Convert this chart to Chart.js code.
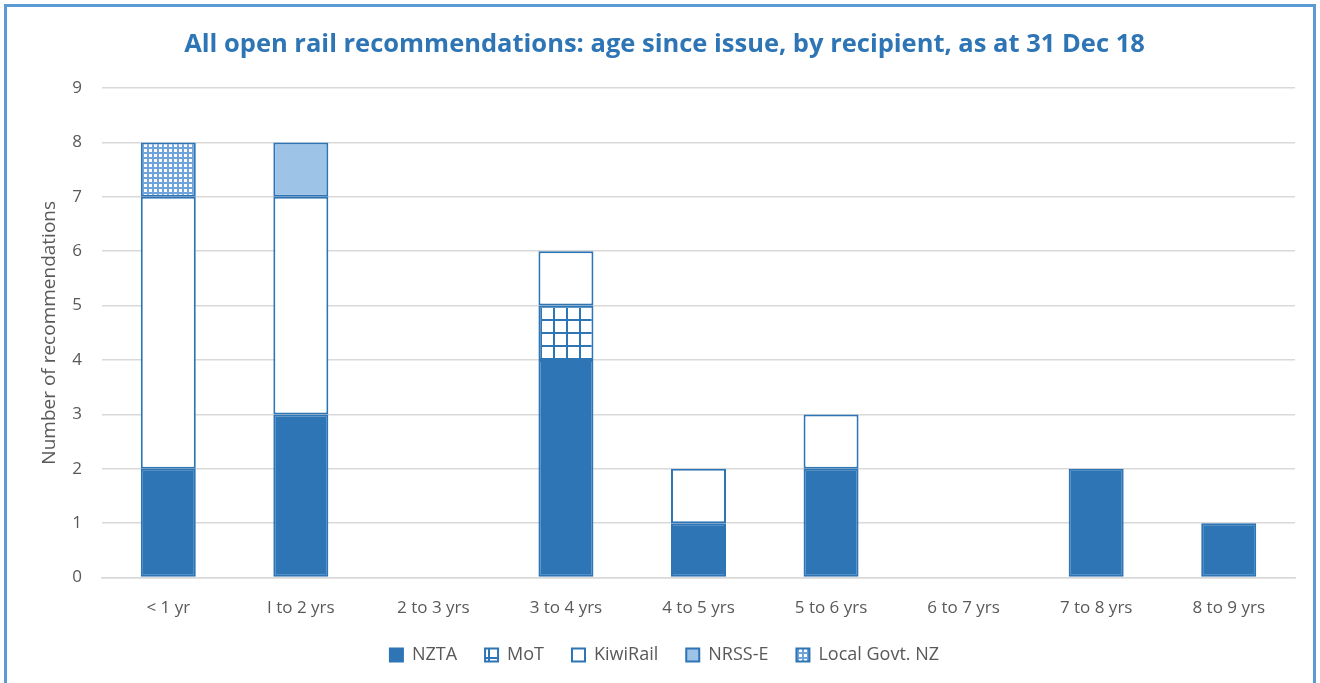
<!DOCTYPE html>
<html>
<head>
<meta charset="utf-8">
<script src="https://cdn.jsdelivr.net/npm/chart.js@4/dist/chart.umd.min.js"></script>
<style>
  body { margin: 0; background: #fff; }
  #frame { position: absolute; left: 4px; top: 4px; width: 1306px; height: 700px; border: 3px solid #5B9BD5; }
  #wrap { position: relative; width: 1306px; height: 679px; }
</style>
</head>
<body>
<div id="frame"><div id="wrap"><canvas id="myChart"></canvas></div></div>
<script>
var categories = ['< 1 yr', 'I to 2 yrs', '2 to 3 yrs', '3 to 4 yrs', '4 to 5 yrs', '5 to 6 yrs', '6 to 7 yrs', '7 to 8 yrs', '8 to 9 yrs'];
var nzta = [2, 3, null, 4, 1, 2, null, 2, 1];
var mot = [null, null, null, 1, null, null, null, null, null];
var kiwiRail = [5, 4, null, 1, 1, 1, null, null, null];
var nrssE = [null, 1, null, null, null, null, null, null, null];
var localGovt = [1, null, null, null, null, null, null, null, null];

var blue = '#2E75B6';
var grey = '#595959';

function gridPattern(size, line, color) {
    var c = document.createElement('canvas');
    c.width = size; c.height = size;
    var g = c.getContext('2d');
    g.fillStyle = '#fff';
    g.fillRect(0, 0, size, size);
    g.fillStyle = color;
    g.fillRect(0, 0, line, size);
    g.fillRect(0, 0, size, line);
    return g.createPattern(c, 'repeat');
}

var ctx = document.getElementById('myChart').getContext('2d');
var motFill = gridPattern(13, 2, blue);
var localFill = gridPattern(5, 2, '#6FA3DC');

function ds(label, data, fill) {
    return {
        label: label,
        data: data,
        backgroundColor: fill,
        borderColor: blue,
        borderWidth: 2,
        borderSkipped: false,
        barPercentage: 1,
        categoryPercentage: 0.415
    };
}

// pull the legend row up closer to the axis labels
var legendLift = {
    id: 'legendLift',
    beforeDraw: function (chart) {
        chart.legend.top -= 12;
        chart.legend.bottom -= 12;
    }
};

var myChart = new Chart(ctx, {
    type: 'bar',
    data: {
        labels: categories,
        datasets: [
            ds('NZTA', nzta, blue),
            ds('MoT', mot, motFill),
            ds('KiwiRail', kiwiRail, '#ffffff'),
            ds('NRSS-E', nrssE, '#9DC3E6'),
            ds('Local Govt. NZ', localGovt, localFill)
        ]
    },
    plugins: [legendLift],
    options: {
        maintainAspectRatio: false,
        responsive: true,
        animation: false,
        layout: { padding: { left: 27, right: 18, top: 6, bottom: 0 } },
        plugins: {
            title: {
                display: true,
                text: 'All open rail recommendations: age since issue, by recipient, as at 31 Dec 18',
                color: blue,
                font: { family: 'Open Sans', size: 25.5, weight: 'bold' },
                padding: { top: 16, bottom: 28.4 }
            },
            legend: {
                position: 'bottom',
                labels: {
                    color: grey,
                    font: { family: 'Open Sans', size: 18 },
                    boxWidth: 13,
                    boxHeight: 13,
                    padding: 28
                }
            },
            tooltip: { enabled: false }
        },
        scales: {
            x: {
                stacked: true,
                grid: { display: false },
                border: { color: '#D9D9D9', width: 1.5 },
                ticks: { color: grey, font: { family: 'Open Sans', size: 17 }, padding: 12, maxRotation: 0 }
            },
            y: {
                stacked: true,
                min: 0,
                max: 9,
                ticks: { stepSize: 1, color: grey, font: { family: 'Open Sans', size: 17 }, padding: 20 },
                grid: { color: '#D9D9D9', lineWidth: 1.5, drawTicks: false },
                border: { display: false },
                title: {
                    display: true,
                    text: 'Number of recommendations',
                    color: grey,
                    font: { family: 'Open Sans', size: 19 },
                    padding: { top: 4, bottom: 0 }
                },
                afterFit: function (scale) { scale.width = 68; }
            }
        }
    }
});
</script>
</body>
</html>
